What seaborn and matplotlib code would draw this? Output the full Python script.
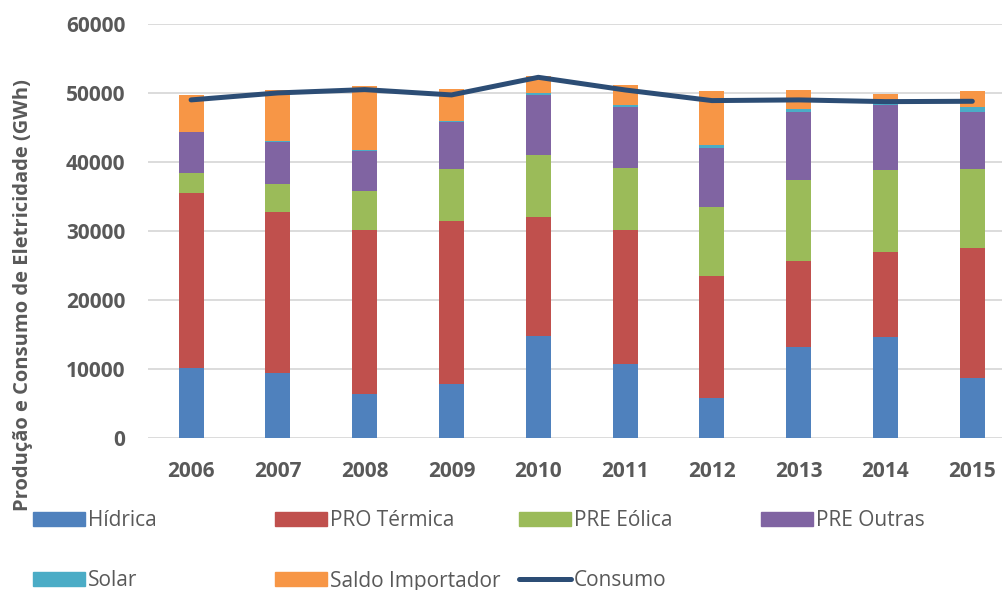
import numpy as np
import seaborn as sns
import matplotlib.pyplot as plt
from matplotlib.patches import Patch
from matplotlib.lines import Line2D

# Valores (GWh)
anos = ['2006', '2007', '2008', '2009', '2010', '2011', '2012', '2013', '2014', '2015']
hidrica = [10120, 9400, 6360, 7800, 14790, 10740, 5780, 13240, 14600, 8760]
termica = [25440, 23360, 23750, 23660, 17250, 19420, 17730, 12440, 12380, 18800]
eolica = [2900, 4110, 5690, 7520, 9020, 9020, 9970, 11760, 11850, 11420]
outras = [5870, 6110, 5880, 6850, 8670, 8820, 8590, 9830, 9460, 8240]
solar = [20, 30, 40, 60, 250, 340, 340, 430, 600, 780]
saldo = [5430, 7440, 9360, 4710, 2540, 2780, 7900, 2750, 930, 2310]
consumo = [49010, 50020, 50500, 49730, 52280, 50450, 48910, 49010, 48760, 48810]

fontes = ['Hídrica', 'PRO Térmica', 'PRE Eólica', 'PRE Outras', 'Solar', 'Saldo Importador']
valores = [hidrica, termica, eolica, outras, solar, saldo]
cores = ['#4F81BD', '#C0504D', '#9BBB59', '#8064A2', '#4BACC6', '#F79646']
cor_consumo = '#2C4D75'
cinza = '#595959'

sns.set_theme(style='white')
plt.rcParams['font.family'] = ['Open Sans', 'DejaVu Sans']

fig = plt.figure(figsize=(10.02, 5.90), dpi=100)
ax = fig.add_axes([0.1474, 0.2571, 0.8526, 0.7022])

# barras empilhadas
base = np.zeros(len(anos))
for nome, vals, cor in zip(fontes, valores, cores):
    sns.barplot(x=anos, y=vals, bottom=base, color=cor, saturation=1,
                width=0.29, errorbar=None, linewidth=0, ax=ax)
    base = base + np.array(vals)

# linha do consumo
sns.lineplot(x=np.arange(len(anos)), y=consumo, color=cor_consumo,
             linewidth=3.6, solid_capstyle='round', ax=ax)

ax.set_ylim(0, 60000)
ax.set_xlim(-0.5, 9.342)
ax.set_yticks(range(0, 60001, 10000))
ax.yaxis.grid(True, color='#D9D9D9', linewidth=1.3)
ax.set_axisbelow(True)
for s in ax.spines.values():
    s.set_visible(False)
ax.set_xlabel('')
ax.set_ylabel('')
ax.tick_params(axis='both', length=0, labelsize=15, labelcolor=cinza)
ax.tick_params(axis='x', pad=16)
ax.tick_params(axis='y', pad=16)
for lbl in ax.get_xticklabels() + ax.get_yticklabels():
    lbl.set_fontweight('bold')

fig.text(23 / 1002, 1 - 295 / 590, 'Produção e Consumo de Eletricidade (GWh)', rotation=90,
         ha='center', va='center', fontsize=14.5, fontweight='bold', color=cinza)

# legenda em grelha fixa, como no Excel
handles = [Patch(color=c) for c in cores]
handles.append(Line2D([], [], color=cor_consumo, linewidth=3.6, solid_capstyle='round'))
rotulos = fontes + ['Consumo']
posicoes = [(33, 521), (275, 521), (519, 521), (761, 521),
            (33, 581), (275, 581), (519, 581)]
for h, r, (px, py) in zip(handles, rotulos, posicoes):
    fig.legend(handles=[h], labels=[r], loc='center left',
               bbox_to_anchor=(px / 1002, 1 - py / 590), frameon=False,
               fontsize=15, handlelength=2.5, handleheight=0.67,
               handletextpad=0.14, borderpad=0, borderaxespad=0,
               labelcolor=cinza)

fig.savefig('out.png', dpi=100)
